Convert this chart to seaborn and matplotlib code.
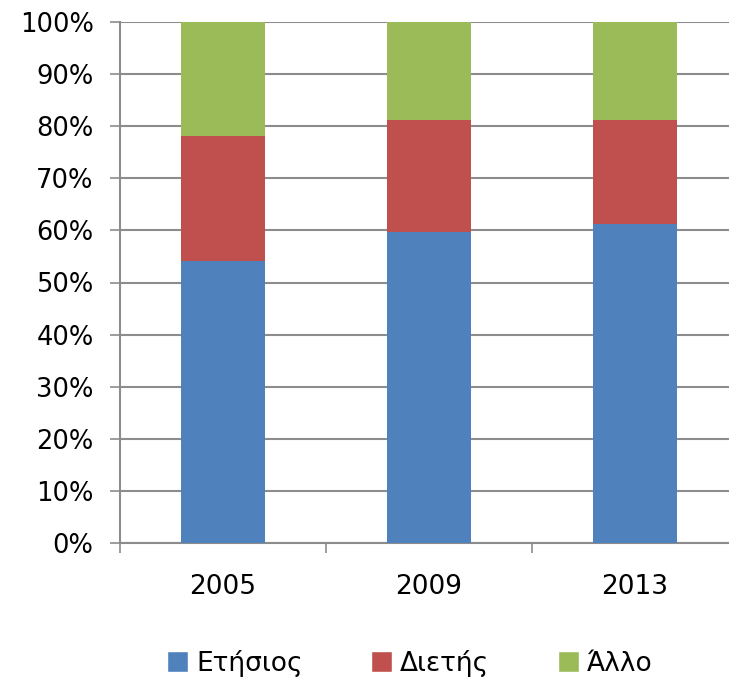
import matplotlib
matplotlib.use("Agg")
import matplotlib.pyplot as plt
from matplotlib.patches import Patch
from matplotlib.ticker import PercentFormatter
import pandas as pd
import seaborn as sns

years = ["2005", "2009", "2013"]
series_names = ["Ετήσιος", "Διετής", "Άλλο"]
annual = [54.2, 59.7, 61.2]
biennial = [24.0, 21.5, 20.0]
other = [21.8, 18.8, 18.8]
colors = ["#4F81BD", "#C0504D", "#9BBB59"]

sns.set_theme(style="white")
plt.rcParams["font.family"] = ["DejaVu Sans"]
plt.rcParams["text.color"] = "black"

df = pd.DataFrame({"year": years, "annual": annual, "biennial": biennial, "other": other})
# stacked bars: draw cumulative totals from the top down
df["top"] = df["annual"] + df["biennial"] + df["other"]
df["mid"] = df["annual"] + df["biennial"]

fig = plt.figure(figsize=(7.29, 6.88), dpi=100)
ax = fig.add_axes([120 / 729, 145 / 688, 618 / 729, 521 / 688])

for col, c in zip(["top", "mid", "annual"], colors[::-1]):
    sns.barplot(data=df, x="year", y=col, color=c, width=0.41, ax=ax,
                saturation=1, linewidth=0, zorder=3)

ax.set_xlim(-0.5, 2.5)
ax.set_ylim(0, 100)
ax.set_yticks(range(0, 101, 10))
ax.yaxis.set_major_formatter(PercentFormatter(decimals=0))
ax.set_xlabel("")
ax.set_ylabel("")

ax.yaxis.grid(True, color="#8C8C8C", linewidth=1.5, zorder=0)
ax.set_axisbelow(True)
for s in ["top", "right"]:
    ax.spines[s].set_visible(False)
for s in ["left", "bottom"]:
    ax.spines[s].set_color("#8C8C8C")
    ax.spines[s].set_linewidth(1.5)

ax.tick_params(axis="y", direction="out", length=7, width=1.2, color="#8C8C8C",
               pad=12, labelsize=18.5, labelcolor="black", left=True)
ax.set_xticks([-0.5, 0.5, 1.5], minor=True)
ax.tick_params(axis="x", which="minor", direction="out", length=7, width=1.2,
               color="#8C8C8C", bottom=True)
ax.tick_params(axis="x", which="major", length=0, pad=22, labelsize=19,
               labelcolor="black")

handles = [Patch(facecolor=c, label=n) for c, n in zip(colors, series_names)]
fig.legend(handles=handles, loc="center", bbox_to_anchor=(0.562, 0.036), ncol=3,
           frameon=False, fontsize=19, handlelength=0.8, handleheight=0.8,
           handletextpad=0.3, columnspacing=2.6)

fig.savefig("out.png", dpi=100)
